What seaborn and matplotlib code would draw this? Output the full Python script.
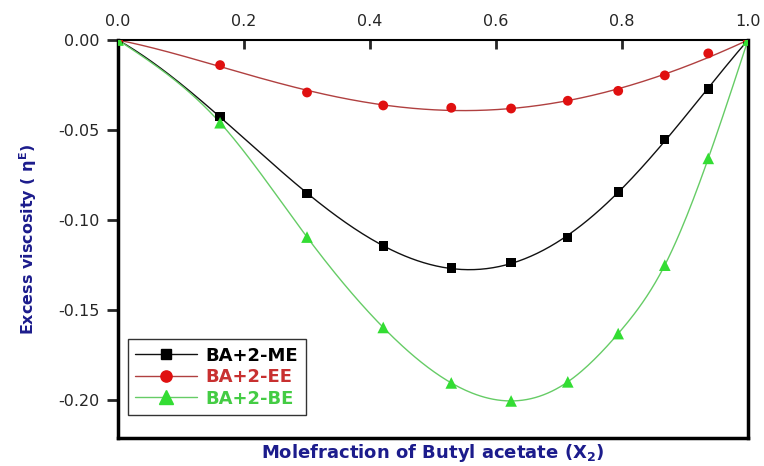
import numpy as np
import pandas as pd
import seaborn as sns
import matplotlib.pyplot as plt
from matplotlib.lines import Line2D

# mole fraction of butyl acetate
x2 = [0.0, 0.162, 0.300, 0.421, 0.529, 0.624, 0.714, 0.794, 0.868, 0.937, 1.0]

# excess viscosity for each mixture
me = [0.0, -0.0426, -0.0852, -0.1144, -0.1265, -0.1235, -0.1096, -0.0844, -0.0552, -0.0272, 0.0]
ee = [0.0, -0.0139, -0.0291, -0.0363, -0.0376, -0.0380, -0.0337, -0.0282, -0.0196, -0.0074, 0.0]
be = [0.0, -0.0459, -0.1094, -0.1596, -0.1904, -0.2004, -0.1898, -0.1630, -0.1250, -0.0657, 0.0]

labels = ["BA+2-ME", "BA+2-EE", "BA+2-BE"]
marker_colors = ["#000000", "#e01010", "#33dd33"]
line_colors = ["#111111", "#b04040", "#66cc66"]
text_colors = ["#000000", "#c83030", "#44cc44"]
markers = ["s", "o", "^"]
marker_sizes = [45, 50, 70]
curve_kind = ["fit", "fit", "spline"]
xticks = [0.0, 0.2, 0.4, 0.6, 0.8, 1.0]
yticks = [0.0, -0.05, -0.10, -0.15, -0.20]


def redlich_kister(x, y, order=3, n=300):
    """Least squares Redlich-Kister fit, returns smooth curve."""
    x = np.asarray(x, float)
    y = np.asarray(y, float)
    A = np.column_stack([x * (1 - x) * (2 * x - 1) ** k for k in range(order + 1)])
    coef, *_ = np.linalg.lstsq(A, y, rcond=None)
    xs = np.linspace(0, 1, n)
    B = np.column_stack([xs * (1 - xs) * (2 * xs - 1) ** k for k in range(order + 1)])
    return xs, B @ coef


def natural_spline(x, y, n=300):
    """Natural cubic spline through the measured points."""
    x = np.asarray(x, float)
    y = np.asarray(y, float)
    h = np.diff(x)
    k = len(x)
    A = np.zeros((k, k))
    r = np.zeros(k)
    A[0, 0] = A[-1, -1] = 1.0
    for i in range(1, k - 1):
        A[i, i - 1] = h[i - 1]
        A[i, i] = 2 * (h[i - 1] + h[i])
        A[i, i + 1] = h[i]
        r[i] = 6 * ((y[i + 1] - y[i]) / h[i] - (y[i] - y[i - 1]) / h[i - 1])
    M = np.linalg.solve(A, r)
    xs = np.linspace(x[0], x[-1], n)
    idx = np.clip(np.searchsorted(x, xs) - 1, 0, k - 2)
    x0, x1 = x[idx], x[idx + 1]
    hh = x1 - x0
    a = (x1 - xs) / hh
    b = (xs - x0) / hh
    ys = (a * y[idx] + b * y[idx + 1]
          + ((a ** 3 - a) * M[idx] + (b ** 3 - b) * M[idx + 1]) * hh ** 2 / 6)
    return xs, ys


sns.set_style("white")
plt.rcParams["font.family"] = ["DejaVu Sans"]
plt.rcParams["mathtext.fontset"] = "custom"
plt.rcParams["mathtext.rm"] = "DejaVu Sans:bold"
plt.rcParams["mathtext.it"] = "DejaVu Sans:bold"
plt.rcParams["mathtext.bf"] = "DejaVu Sans:bold"

fig = plt.figure(figsize=(7.64, 4.66), dpi=100)
ax = fig.add_axes([0.1545, 0.060, 0.8245, 0.854])

handles = []
for ys, lab, mc, lc, mk, ms, kind in zip([me, ee, be], labels, marker_colors,
                                         line_colors, markers, marker_sizes,
                                         curve_kind):
    if kind == "fit":
        xs, fit = redlich_kister(x2, ys)
    else:
        xs, fit = natural_spline(x2, ys)
    sns.lineplot(x=xs, y=fit, ax=ax, color=lc, linewidth=1.0, legend=False)
    df = pd.DataFrame({"x": x2, "y": ys})
    sns.scatterplot(data=df, x="x", y="y", ax=ax, marker=mk, color=mc,
                    s=ms, edgecolor="none", legend=False, zorder=3)
    handles.append(Line2D([], [], color=lc, linewidth=1.0, marker=mk,
                          markerfacecolor=mc, markeredgecolor=mc,
                          markersize=np.sqrt(ms) + 1))

ax.set_xlim(0, 1.0)
ax.set_ylim(-0.221, 0.0)
ax.set_xticks(xticks)
ax.set_xticklabels([f"{t:.1f}" for t in xticks])
ax.set_yticks(yticks)
ax.set_yticklabels([f"{t:.2f}" for t in yticks])

ax.xaxis.tick_top()
ax.tick_params(axis="x", direction="in", length=6.5, width=2, labelsize=11.5,
               top=True, bottom=False, pad=8)
ax.tick_params(axis="y", direction="out", length=8, width=2, labelsize=11.5,
               left=True, right=False, pad=5)

for side in ["left", "right", "bottom"]:
    ax.spines[side].set_linewidth(2.5)
ax.spines["top"].set_linewidth(1.5)
for sp in ax.spines.values():
    sp.set_color("black")

ax.set_xlabel(r"Molefraction of Butyl acetate (X$_{\mathbf{2}}$)",
              fontsize=13, fontweight="bold", color="#1c1c8c", labelpad=3)
ax.xaxis.set_label_position("bottom")
ax.set_ylabel(r"Excess viscosity ( $\eta^{E}$)",
              fontsize=11.5, fontweight="bold", color="#1c1c8c", labelpad=14)

leg = ax.legend(handles, labels, loc="lower left", bbox_to_anchor=(0.016, 0.058),
                borderaxespad=0, fontsize=13, frameon=True, fancybox=False,
                handlelength=3.4, borderpad=0.4, labelspacing=0.2,
                handletextpad=0.5)
leg.get_frame().set_edgecolor("black")
leg.get_frame().set_linewidth(1.0)
for txt, c in zip(leg.get_texts(), text_colors):
    txt.set_color(c)
    txt.set_fontweight("bold")

fig.savefig("out.png", dpi=100)
